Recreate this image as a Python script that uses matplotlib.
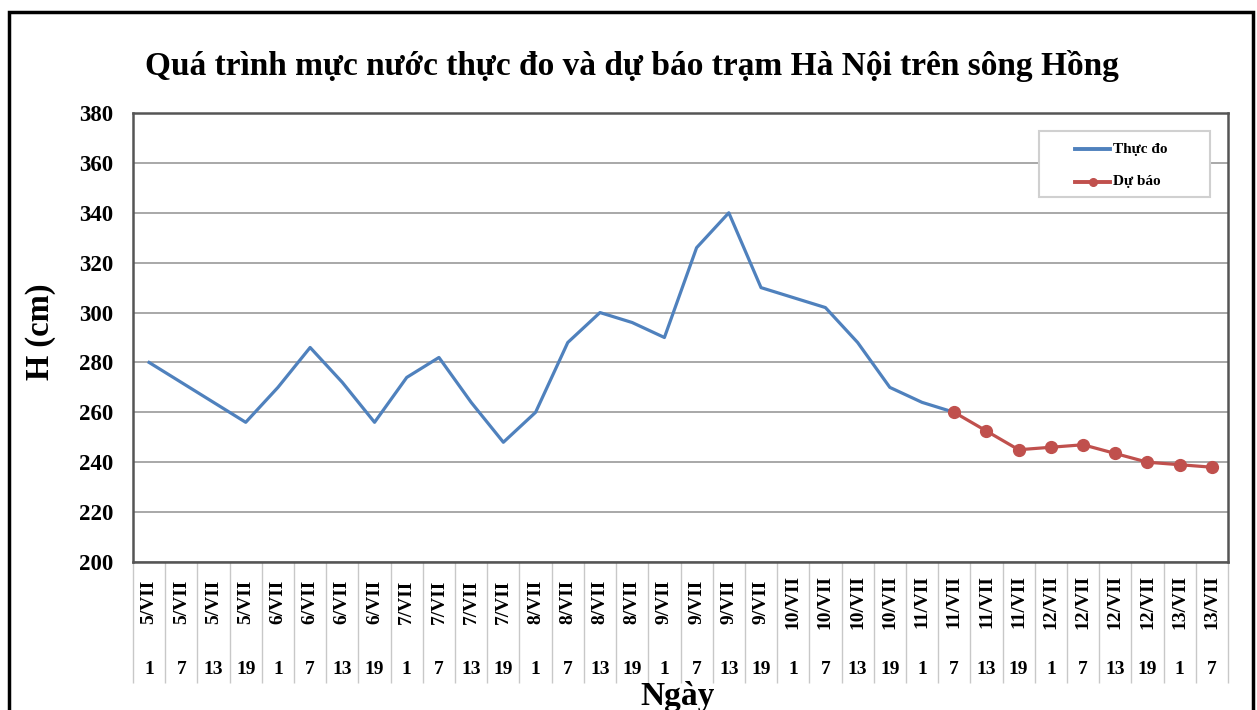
import numpy as np
import matplotlib
matplotlib.use("Agg")
import matplotlib.pyplot as plt
from matplotlib.patches import Rectangle
from matplotlib.lines import Line2D
from matplotlib.ticker import FixedLocator, NullFormatter

plt.rcParams["font.family"] = ["Liberation Serif", "DejaVu Serif"]
plt.rcParams["font.weight"] = "bold"

# Nhãn trục x: ngày + giờ
ngay = ["5/VII", "5/VII", "5/VII", "5/VII",
        "6/VII", "6/VII", "6/VII", "6/VII",
        "7/VII", "7/VII", "7/VII", "7/VII",
        "8/VII", "8/VII", "8/VII", "8/VII",
        "9/VII", "9/VII", "9/VII", "9/VII",
        "10/VII", "10/VII", "10/VII", "10/VII",
        "11/VII", "11/VII", "11/VII", "11/VII",
        "12/VII", "12/VII", "12/VII", "12/VII",
        "13/VII", "13/VII"]
gio = ["1", "7", "13", "19", "1", "7", "13", "19", "1", "7", "13", "19",
       "1", "7", "13", "19", "1", "7", "13", "19", "1", "7", "13", "19",
       "1", "7", "13", "19", "1", "7", "13", "19", "1", "7"]

# Mực nước thực đo (5/VII 1h -> 11/VII 7h)
thuc_do = [280, 272, 264, 256, 270, 286, 272, 256, 274, 282, 264, 248, 260,
           288, 300, 296, 290, 326, 340, 310, 306, 302, 288, 270, 264, 260]
# Dự báo (11/VII 7h -> 13/VII 7h)
du_bao = [260, 252.5, 245, 246, 247, 243.5, 240, 239, 238]

XANH = "#4F81BD"
DO = "#C0504D"

W, H = 1257, 710
fig = plt.figure(figsize=(W / 100, H / 100), dpi=100)


def px(x, y):
    """toạ độ pixel (gốc trên-trái) -> toạ độ figure"""
    return x / W, 1 - y / H


# khung ngoài
fig.patches.append(Rectangle((9 / W, -0.05), (1253 - 9) / W, 1.05 - 12 / H,
                             transform=fig.transFigure, fill=False,
                             edgecolor="black", linewidth=2.5))

ax = fig.add_axes([133 / W, 1 - 562 / H, (1228 - 133) / W, (562 - 113) / H])

n = len(ngay)
x_td = np.arange(len(thuc_do))
x_db = np.arange(len(thuc_do) - 1, len(thuc_do) - 1 + len(du_bao))

ax.plot(x_td, thuc_do, color=XANH, lw=2.3, zorder=3)
ax.plot(x_db, du_bao, color=DO, lw=2.3, marker="o", ms=8.5, zorder=4)

ax.set_xlim(-0.5, n - 0.5)
ax.set_ylim(200, 380)
ax.set_yticks(np.arange(200, 381, 20))
ax.grid(axis="y", color="#999999", lw=1.2)
ax.set_axisbelow(True)
for s in ax.spines.values():
    s.set_color("#555555")
    s.set_linewidth(1.8)

ax.tick_params(axis="y", length=0, pad=14, labelsize=16.5)
ax.set_xticks(np.arange(n))
ax.xaxis.set_major_formatter(NullFormatter())
ax.tick_params(axis="x", which="major", length=0)
ax.xaxis.set_minor_locator(FixedLocator(np.arange(-0.5, n, 1.0)))
ax.tick_params(axis="x", which="minor", length=87, width=1.0, color="#c8c8c8")

trans = ax.get_xaxis_transform()
for i in range(n):
    ax.text(i, -40 / 449, ngay[i], rotation=90, ha="center", va="center",
            fontsize=14, fontweight="bold", transform=trans, clip_on=False)
    ax.text(i, -108 / 449, gio[i], ha="center", va="center",
            fontsize=14, fontweight="bold", transform=trans, clip_on=False)

fig.text(*px(40, 332), "H (cm)", rotation=90, ha="center", va="center",
         fontsize=23.5, fontweight="bold")
fig.text(*px(678, 696), "Ngày", ha="center", va="center",
         fontsize=24, fontweight="bold")
fig.text(*px(632, 66),
         "Quá trình mực nước thực đo và dự báo trạm Hà Nội trên sông Hồng",
         ha="center", va="center", fontsize=24, fontweight="bold")

# chú giải
x0, y0 = px(1039, 197)
x1, y1 = px(1210, 131)
fig.patches.append(Rectangle((x0, y0), x1 - x0, y1 - y0, transform=fig.transFigure,
                             facecolor="white", edgecolor="#d0d0d0", lw=1.5, zorder=5))
muc = [("Thực đo", XANH, False, 149), ("Dự báo", DO, True, 182)]
for nhan, mau, co_dau, yy in muc:
    xa, ya = px(1075, yy)
    xb, _ = px(1110, yy)
    fig.add_artist(Line2D([xa, xb], [ya, ya], color=mau, lw=2.8, zorder=6,
                          transform=fig.transFigure))
    if co_dau:
        fig.add_artist(Line2D([(xa + xb) / 2], [ya], color=mau, marker="o", ms=5.5,
                              zorder=6, transform=fig.transFigure))
    fig.text(*px(1113, yy), nhan, ha="left", va="center", fontsize=11,
             fontweight="bold", zorder=7)

fig.savefig("out.png", dpi=100)
